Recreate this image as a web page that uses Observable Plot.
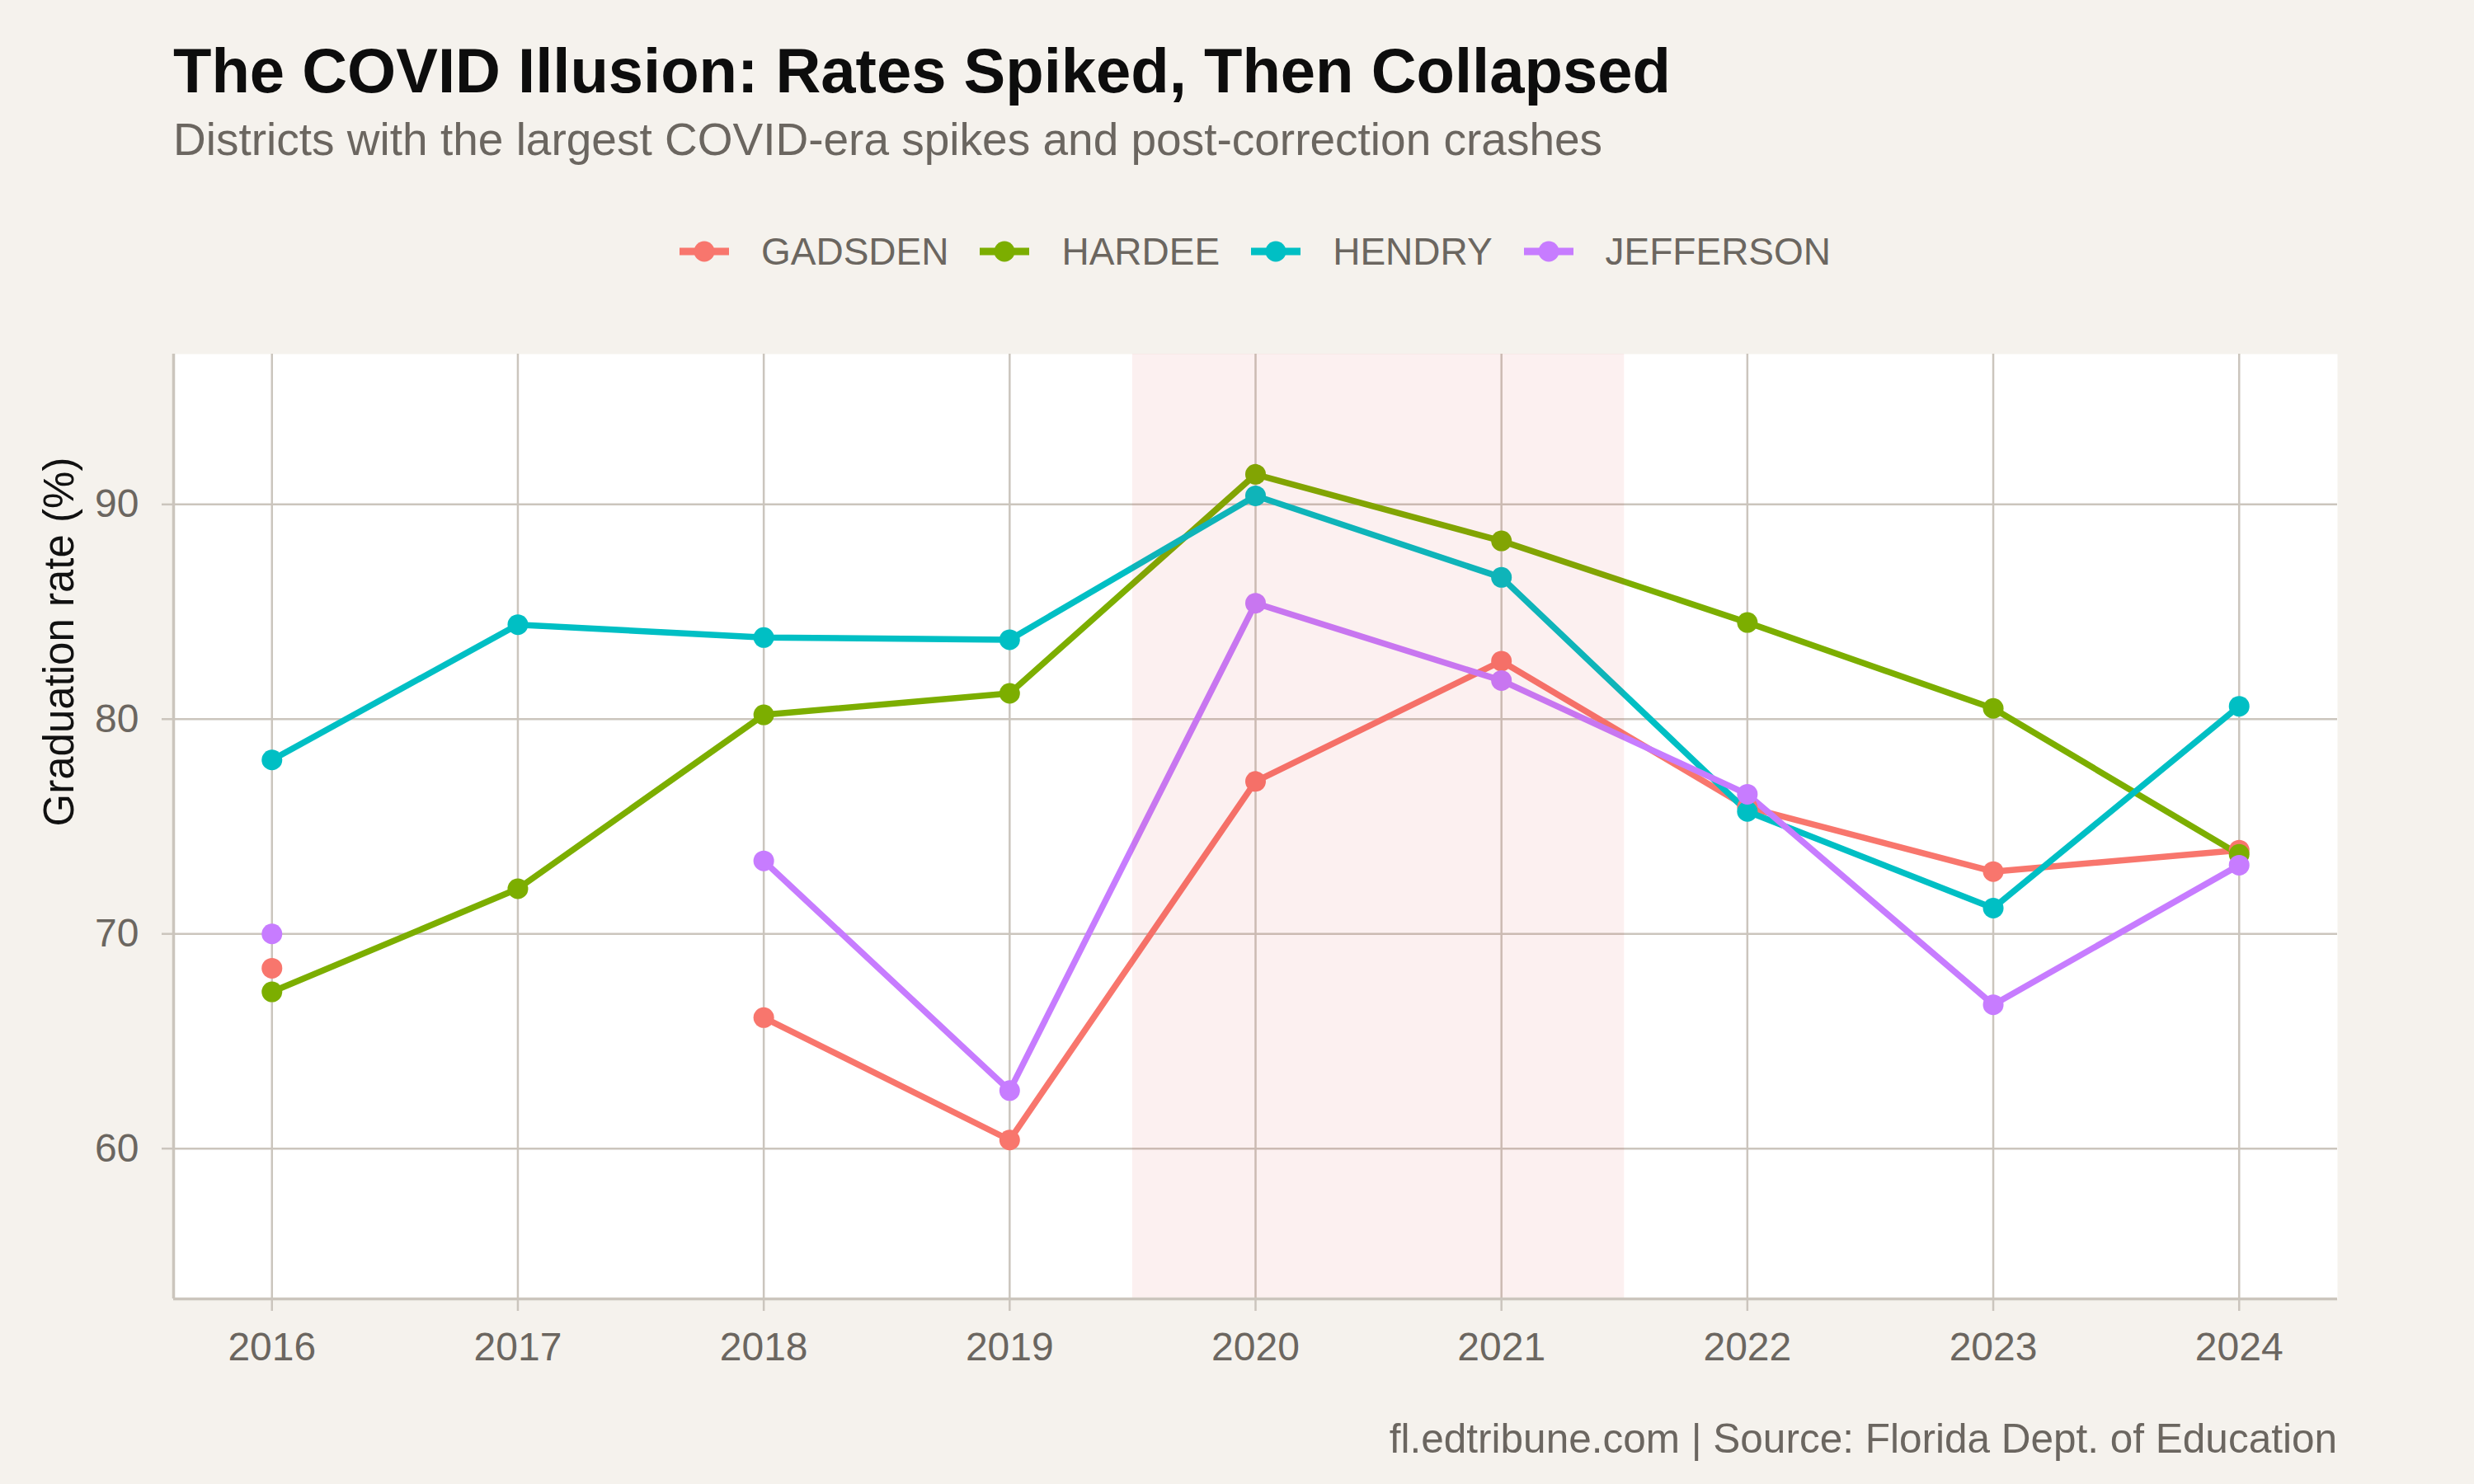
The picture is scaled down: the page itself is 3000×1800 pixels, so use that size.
<!DOCTYPE html>
<html><head><meta charset="utf-8">
<script src="https://cdn.jsdelivr.net/npm/d3@7"></script>
<script src="https://cdn.jsdelivr.net/npm/@observablehq/plot@0.6"></script>
<style>
html,body{margin:0;padding:0;background:#F5F2ED;}
#root{position:relative;width:3000px;height:1800px;font-family:"Liberation Sans",Arial,Helvetica,sans-serif;overflow:hidden;}
.t{position:absolute;white-space:nowrap;line-height:1;}
#legend{position:absolute;left:210px;width:2624px;top:282px;display:flex;justify-content:center;align-items:center;height:46px;}
.item{display:flex;align-items:center;font-size:46px;color:#6B6660;line-height:1;}
.item svg{margin-right:39px;}
.item + .item{margin-left:38px;}
#chart{position:absolute;left:0;top:400px;}
</style></head><body><div id="root">
<div class="t" id="title" style="left:210px;top:48px;font-size:76px;font-weight:bold;color:#0d0d0d;">The COVID Illusion: Rates Spiked, Then Collapsed</div>
<div class="t" id="subtitle" style="left:210px;top:142px;font-size:55px;color:#6B6660;">Districts with the largest COVID-era spikes and post-correction crashes</div>
<div id="legend"></div>
<div id="chart"></div>
<div class="t" id="caption" style="right:166px;top:1720px;font-size:49.5px;color:#6B6660;">fl.edtribune.com | Source: Florida Dept. of Education</div>
</div>
<script>
// ---- data ----
const years = [2016, 2017, 2018, 2019, 2020, 2021, 2022, 2023, 2024];
const districts = ["GADSDEN", "HARDEE", "HENDRY", "JEFFERSON"];
const gadsden   = [68.4, null, 66.1, 60.4, 77.1, 82.7, 75.9, 72.9, 73.9];
const hardee    = [67.3, 72.1, 80.2, 81.2, 91.4, 88.3, 84.5, 80.5, 73.7];
const hendry    = [78.1, 84.4, 83.8, 83.7, 90.4, 86.6, 75.7, 71.2, 80.6];
const jefferson = [70.0, null, 73.4, 62.7, 85.4, 81.8, 76.5, 66.7, 73.2];
const yTicks = [60, 70, 80, 90];
const covidWindow = [2019.5, 2021.5];
const districtColors = ["#F8766D", "#7CAE00", "#00BFC4", "#C77CFF"];
const yLabel = "Graduation rate (%)";

// ---- config ----
const xDomain = [2015.6, 2024.4];
const yDomain = [53, 97];
const gridColor = "#CBC5BD";
const textColor = "#6B6660";

const series = [gadsden, hardee, hendry, jefferson];
const rows = districts.flatMap((d, i) => years.map((yr, j) => ({district: d, year: yr, rate: series[i][j]})));

const chart = Plot.plot({
  width: 3000,
  height: 1300,
  marginTop: 29,
  marginBottom: 125,
  marginLeft: 210,
  marginRight: 166,
  style: {background: "transparent", fontFamily: "Liberation Sans, Arial, sans-serif"},
  x: {domain: xDomain, axis: null},
  y: {domain: yDomain, axis: null},
  color: {domain: districts, range: districtColors},
  marks: [
    Plot.frame({fill: "white", stroke: null}),
    Plot.gridX(years, {stroke: gridColor, strokeOpacity: 1, strokeWidth: 2.5}),
    Plot.gridY(yTicks, {stroke: gridColor, strokeOpacity: 1, strokeWidth: 2.5}),
    Plot.line(rows, {x: "year", y: "rate", z: "district", stroke: "district", strokeWidth: 7.5, strokeLinecap: "butt"}),
    Plot.dot(rows.filter(d => d.rate != null), {x: "year", y: "rate", fill: "district", r: 12.5}),
    Plot.rect([covidWindow], {x1: d => d[0], x2: d => d[1], fill: "#D62728", fillOpacity: 0.07}),
    Plot.ruleX([xDomain[0]], {stroke: gridColor, strokeWidth: 3.5}),
    Plot.ruleY([yDomain[0]], {stroke: gridColor, strokeWidth: 3.5}),
    Plot.axisX({ticks: years, tickFormat: d => String(d), tickSize: 15, tickPadding: 25, fontSize: 48, fill: textColor, stroke: gridColor, strokeWidth: 2.5, label: null}),
    Plot.axisY({ticks: yTicks, tickSize: 14, tickPadding: 28, fontSize: 48, fill: textColor, stroke: gridColor, strokeWidth: 2.5, label: null}),
    Plot.text([yLabel], {text: d => d, frameAnchor: "left", rotate: -90, dx: -138, fontSize: 51, fill: "#111"})
  ]
});
document.getElementById("chart").appendChild(chart);

// ---- legend ----
const legend = document.getElementById("legend");
districts.forEach((d, i) => {
  const item = document.createElement("div");
  item.className = "item";
  item.innerHTML = `<svg width="60" height="30" viewBox="0 0 60 30"><line x1="0" x2="60" y1="15" y2="15" stroke="${districtColors[i]}" stroke-width="9"/><circle cx="30" cy="15" r="12.5" fill="${districtColors[i]}"/></svg><span>${d}</span>`;
  legend.appendChild(item);
});
</script>
</body></html>
